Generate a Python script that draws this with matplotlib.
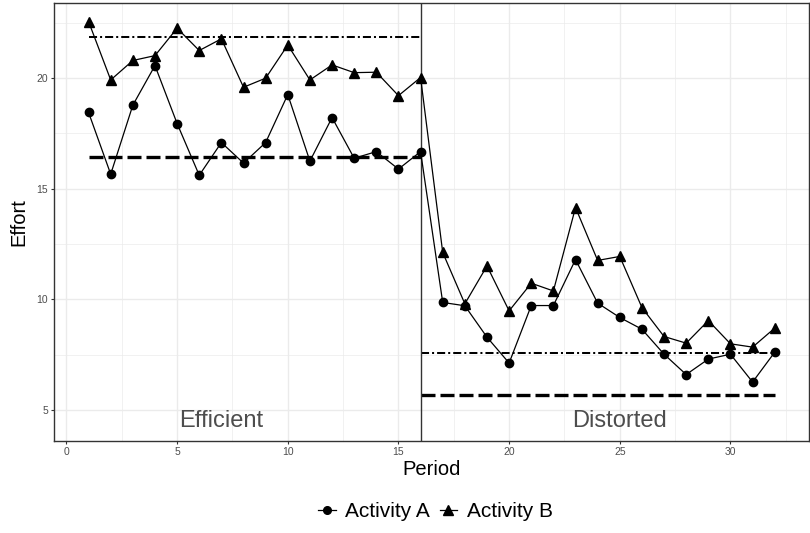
import matplotlib.pyplot as plt
from matplotlib.lines import Line2D
import numpy as np

plt.rcParams['font.family'] = ['Liberation Sans', 'DejaVu Sans']

period = np.arange(1, 33)
activity_a = [18.45, 15.66, 18.78, 20.57, 17.95, 15.61, 17.09, 16.16,
              17.09, 19.26, 16.25, 18.22, 16.38, 16.68, 15.89, 16.68,
              9.86, 9.71, 8.29, 7.12, 9.72, 9.72, 11.80, 9.83,
              9.18, 8.65, 7.52, 6.60, 7.30, 7.52, 6.26, 7.61]
activity_b = [22.56, 19.92, 20.80, 21.02, 22.26, 21.25, 21.78, 19.59,
              20.00, 21.50, 19.92, 20.60, 20.25, 20.27, 19.21, 20.03,
              12.12, 9.80, 11.51, 9.48, 10.73, 10.38, 14.15, 11.76,
              11.94, 9.63, 8.32, 8.02, 9.04, 7.99, 7.84, 8.70]

# reference levels per regime: (start, end, level)
level_a = [(1, 16, 16.44), (16, 32, 5.67)]
level_b = [(1, 16, 21.88), (16, 32, 7.57)]
switch_period = 16
regimes = ['Efficient', 'Distorted']
regime_x = [7, 25]
regime_y = 4.5

fig = plt.figure(figsize=(8.1, 5.33), dpi=100)
ax = fig.add_axes([0.067, 0.1732, 0.9318, 0.8212])

# theme_bw style grid
ax.set_xlim(-0.55, 33.55)
ax.set_ylim(3.61, 23.40)
ax.set_xticks([0, 5, 10, 15, 20, 25, 30])
ax.set_yticks([5, 10, 15, 20])
ax.set_xticks(np.arange(2.5, 33, 5), minor=True)
ax.set_yticks([7.5, 12.5, 17.5, 22.5], minor=True)
ax.grid(which='major', color='#EBEBEB', linewidth=1.0, zorder=0)
ax.grid(which='minor', color='#EBEBEB', linewidth=0.5, zorder=0)
ax.set_axisbelow(True)
for s in ax.spines.values():
    s.set_color('#333333')
    s.set_linewidth(1.0)
ax.tick_params(which='major', length=2.5, width=0.8, color='#333333',
               labelsize=7.5, labelcolor='#4D4D4D', pad=2)
ax.tick_params(which='minor', length=0)

for x0, x1, y in level_a:
    ax.plot([x0, x1], [y, y], color='black', linewidth=2.4,
            linestyle=(0, (4.2, 1.5)), zorder=2)
for x0, x1, y in level_b:
    ax.plot([x0, x1], [y, y], color='black', linewidth=1.45,
            linestyle=(0, (4, 1.5, 1, 1.5)), zorder=2)

ax.axvline(switch_period, color='#333333', linewidth=1.0, zorder=2)

ax.plot(period, activity_a, color='black', linewidth=0.9, marker='o',
        markersize=6, zorder=3)
ax.plot(period, activity_b, color='black', linewidth=0.9, marker='^',
        markersize=7, zorder=3)

for label, x in zip(regimes, regime_x):
    ax.text(x, regime_y, label, ha='center', va='center', fontsize=17,
            color='#4D4D4D')

ax.set_xlabel('Period', fontsize=14.5, labelpad=2)
ax.set_ylabel('Effort', fontsize=14.5, labelpad=6)

# legend centred under the panel
handles = [Line2D([], [], color='black', linewidth=0.9, marker='o', markersize=5.5),
           Line2D([], [], color='black', linewidth=0.9, marker='^', markersize=6.5)]
fig.legend(handles, ['Activity A', 'Activity B'], loc='center',
           bbox_to_anchor=(0.5377, 0.04), ncol=2, frameon=False, fontsize=15,
           handlelength=0.85, handletextpad=0.45, columnspacing=0.45)

fig.savefig('out.png', dpi=100)
